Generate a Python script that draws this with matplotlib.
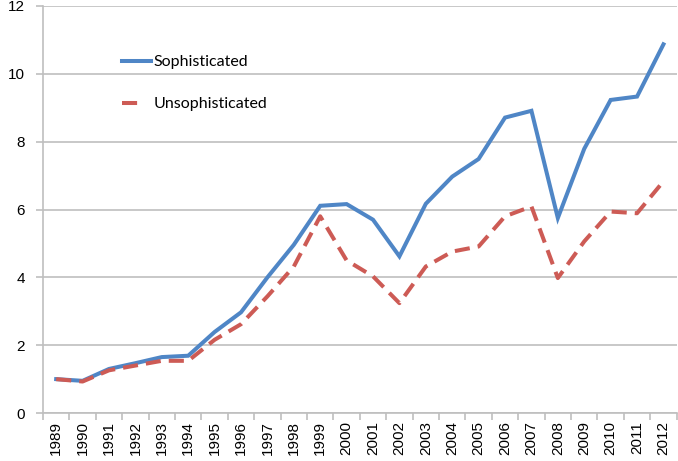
import numpy as np
import matplotlib
matplotlib.use('Agg')
import matplotlib.pyplot as plt
from matplotlib.lines import Line2D

# data
years = ['1989', '1990', '1991', '1992', '1993', '1994', '1995', '1996',
         '1997', '1998', '1999', '2000', '2001', '2002', '2003', '2004',
         '2005', '2006', '2007', '2008', '2009', '2010', '2011', '2012']
sophisticated = [1.0, 0.95, 1.30, 1.47, 1.65, 1.69, 2.39, 2.97, 4.0, 4.96,
                 6.11, 6.16, 5.70, 4.62, 6.17, 6.97, 7.49, 8.71, 8.91, 5.75,
                 7.79, 9.23, 9.33, 10.87]
unsophisticated = [1.0, 0.93, 1.26, 1.40, 1.54, 1.54, 2.16, 2.62, 3.44, 4.32,
                   5.80, 4.50, 4.03, 3.24, 4.32, 4.76, 4.91, 5.80, 6.09, 3.98,
                   5.06, 5.94, 5.89, 6.83]

blue = '#4F86C6'
red = '#CD5B55'
grey = '#BFBFBF'

fig = plt.figure(figsize=(6.78, 4.61), dpi=100)
ax = fig.add_axes([0.0634, 0.104, 0.9346, 0.883])

x = np.arange(len(years))
ax.plot(x, sophisticated, color=blue, lw=2.9, solid_joinstyle='miter', zorder=3)
ax.plot(x, unsophisticated, color=red, lw=2.9, dashes=(3.75, 2.0),
        dash_capstyle='butt', zorder=3)

ax.set_xlim(-0.5, len(years) - 0.5)
ax.set_ylim(0, 12)
ax.set_yticks(np.arange(0, 13, 2))
ax.yaxis.grid(True, color=grey, lw=1.2)
ax.set_axisbelow(True)

# tick marks between categories, labels at category centres
ax.set_xticks(np.arange(-0.5, len(years), 1.0))
ax.set_xticklabels([])
ax.set_xticks(x, minor=True)
ax.set_xticklabels(years, minor=True, rotation=90, fontsize=11,
                   family='Liberation Sans')
ax.tick_params(axis='x', which='major', length=5, color=grey, width=1.2)
ax.tick_params(axis='x', which='minor', length=0, pad=6)
ax.tick_params(axis='y', length=5, color=grey, width=1.2, labelsize=11, pad=8)
for lab in ax.get_yticklabels():
    lab.set_family('Liberation Sans')

for s in ['top', 'right']:
    ax.spines[s].set_visible(False)
for s in ['left', 'bottom']:
    ax.spines[s].set_color(grey)
    ax.spines[s].set_linewidth(1.2)

handles = [Line2D([], [], color=blue, lw=2.9),
           Line2D([], [], color=red, lw=2.9, dashes=(3.75, 10))]
ax.legend(handles, ['Sophisticated', 'Unsophisticated'], frameon=False,
          loc='upper left', bbox_to_anchor=(0.102, 0.915), handlelength=1.8,
          handletextpad=0.15, labelspacing=1.75,
          prop={'family': 'Lato', 'size': 11.5})

fig.savefig('out.png', dpi=100)
